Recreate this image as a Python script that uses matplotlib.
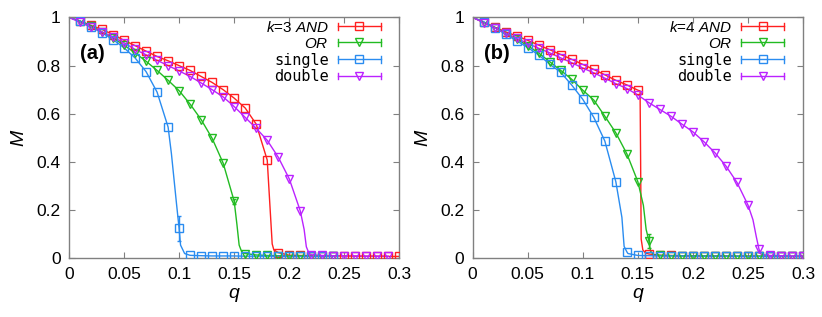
import numpy as np
import matplotlib.pyplot as plt
from matplotlib.legend_handler import HandlerLine2D
from matplotlib.lines import Line2D

plt.rcParams['font.family'] = ['Liberation Sans', 'DejaVu Sans']
plt.rcParams['mathtext.fontset'] = 'custom'
plt.rcParams['mathtext.it'] = 'Liberation Sans:italic'
plt.rcParams['mathtext.rm'] = 'Liberation Sans'

q = [0.01, 0.02, 0.03, 0.04, 0.05, 0.06, 0.07, 0.08, 0.09, 0.10,
     0.11, 0.12, 0.13, 0.14, 0.15, 0.16, 0.17, 0.18, 0.19, 0.20,
     0.21, 0.22, 0.23, 0.24, 0.25, 0.26, 0.27, 0.28, 0.29, 0.30]

# panel (a), k=3
a_and = [0.985, 0.967, 0.950, 0.929, 0.905, 0.883, 0.860, 0.838, 0.820, 0.800,
         0.780, 0.755, 0.730, 0.700, 0.665, 0.624, 0.557, 0.408, 0.024, 0.013,
         0.012, 0.011, 0.011, 0.010, 0.010, 0.009, 0.009, 0.009, 0.008, 0.008]
a_or = [0.985, 0.965, 0.940, 0.915, 0.885, 0.853, 0.818, 0.780, 0.739, 0.696,
        0.640, 0.576, 0.498, 0.395, 0.237, 0.020, 0.014, 0.012, 0.011, 0.010,
        0.010, 0.009, 0.009, 0.009]
a_single = [0.985, 0.961, 0.936, 0.908, 0.874, 0.832, 0.775, 0.690, 0.545, 0.124,
            0.0125, 0.011, 0.010, 0.010, 0.010, 0.009, 0.009, 0.009, 0.009, 0.008,
            0.008, 0.008, 0.008, 0.008]
a_double = [0.980, 0.960, 0.940, 0.918, 0.895, 0.867, 0.845, 0.822, 0.800, 0.778,
            0.755, 0.728, 0.700, 0.670, 0.630, 0.585, 0.540, 0.490, 0.420, 0.330,
            0.197, 0.015, 0.012, 0.011, 0.010, 0.010, 0.009, 0.009, 0.009]

# extra points of the fitted curves (q, M) near the jumps
a_and_curve = [(0.0, 1.0), (0.1845, 0.06), (0.186, 0.035)]
a_or_curve = [(0.0, 1.0), (0.1525, 0.14), (0.1545, 0.055), (0.157, 0.025)]
a_single_curve = [(0.0, 1.0), (0.093, 0.435), (0.0976, 0.228), (0.1013, 0.055), (0.105, 0.02)]
a_double_curve = [(0.0, 1.0), (0.2135, 0.12), (0.2155, 0.048), (0.218, 0.02)]

# panel (b), k=4
b_and = [0.980, 0.960, 0.940, 0.923, 0.905, 0.885, 0.866, 0.846, 0.826, 0.805,
         0.784, 0.762, 0.739, 0.720, 0.698, 0.018, 0.013, 0.012, 0.011, 0.011,
         0.010, 0.010, 0.010, 0.009, 0.009, 0.009, 0.009, 0.008, 0.008, 0.008]
b_or = [0.980, 0.958, 0.935, 0.910, 0.883, 0.852, 0.816, 0.780, 0.743, 0.698,
        0.657, 0.590, 0.521, 0.434, 0.318, 0.073, 0.012, 0.011, 0.010, 0.010,
        0.010, 0.009, 0.009, 0.009, 0.009, 0.009, 0.008, 0.008, 0.008, 0.008]
b_single = [0.982, 0.958, 0.930, 0.903, 0.875, 0.844, 0.806, 0.772, 0.719, 0.660,
            0.585, 0.487, 0.318, 0.027, 0.012, 0.011, 0.010, 0.010, 0.010, 0.009,
            0.009, 0.009, 0.009, 0.009, 0.008, 0.008, 0.008, 0.008, 0.008, 0.008]
b_double = [0.978, 0.956, 0.934, 0.913, 0.892, 0.872, 0.853, 0.832, 0.812, 0.790,
            0.770, 0.748, 0.725, 0.705, 0.678, 0.646, 0.618, 0.590, 0.557, 0.525,
            0.484, 0.438, 0.383, 0.315, 0.221, 0.037, 0.012, 0.011, 0.010, 0.010]

b_and_curve = [(0.0, 1.0), (0.152, 0.695), (0.1525, 0.40), (0.153, 0.08), (0.1545, 0.035), (0.157, 0.022)]
b_or_curve = [(0.0, 1.0), (0.155, 0.22), (0.1575, 0.12), (0.1615, 0.03), (0.164, 0.016)]
b_single_curve = [(0.0, 1.0), (0.1355, 0.17), (0.1375, 0.05), (0.141, 0.02)]
b_double_curve = [(0.0, 1.0), (0.2545, 0.16), (0.2575, 0.09), (0.262, 0.016)]

# error bars at the transition points: (q, M, err, series)
a_errs = [(0.10, 0.124, 0.05, 'single'), (0.15, 0.237, 0.01, 'OR')]
b_errs = [(0.16, 0.073, 0.03, 'OR')]

xticks = [0, 0.05, 0.1, 0.15, 0.2, 0.25, 0.3]
xticklabels = ['0', '0.05', '0.1', '0.15', '0.2', '0.25', '0.3']
yticks = [0, 0.2, 0.4, 0.6, 0.8, 1]
yticklabels = ['0', '0.2', '0.4', '0.6', '0.8', '1']

colors = {'AND': '#ff2020', 'OR': '#22bb22', 'single': '#2a8cf0', 'double': '#bb22ff'}
markers = {'AND': 's', 'OR': 'v', 'single': 's', 'double': 'v'}
msizes = {'s': 5.8, 'v': 5.8}


class CapHandler(HandlerLine2D):
    # gnuplot-like key sample: line with small end bars
    def create_artists(self, legend, orig_handle, xdescent, ydescent,
                       width, height, fontsize, trans):
        arts = super().create_artists(legend, orig_handle, xdescent, ydescent,
                                      width, height, fontsize, trans)
        y = height / 2 - ydescent
        for x in (-xdescent, width - xdescent):
            cap = Line2D([x, x], [y - 2.5, y + 2.5], color=orig_handle.get_color(),
                         lw=orig_handle.get_linewidth())
            cap.set_transform(trans)
            arts.append(cap)
        return arts


def curve(vals, extra):
    pts = list(zip(q[:len(vals)], vals)) + extra
    pts.sort()
    return [p[0] for p in pts], [p[1] for p in pts]


def panel(ax, series, errs, tag, k):
    handles = []
    for name, vals, extra in series:
        c = colors[name]
        mk = markers[name]
        xl, yl = curve(vals, extra)
        ax.plot(xl, yl, color=c, lw=1.0, zorder=2)
        ax.plot(q[:len(vals)], vals, ls='none', marker=mk, ms=msizes[mk],
                mfc='none', mec=c, mew=1.0, zorder=3)
        handles.append(Line2D([], [], color=c, lw=1.0, marker=mk, ms=msizes[mk],
                              mfc='none', mec=c, mew=1.0))
    for xq, ym, e, name in errs:
        ax.errorbar([xq], [ym], yerr=[e], fmt='none', ecolor=colors[name],
                    elinewidth=1.0, capsize=1.5, zorder=2)

    ax.set_xlim(0, 0.3)
    ax.set_ylim(0, 1)
    ax.set_xticks(xticks)
    ax.set_xticklabels(xticklabels)
    ax.set_yticks(yticks)
    ax.set_yticklabels(yticklabels)
    ax.tick_params(direction='in', length=4, width=0.8, color='#808080',
                   top=True, right=True, labelsize=12.5, pad=6)
    for sp in ax.spines.values():
        sp.set_color('#808080')
        sp.set_linewidth(1.0)
    ax.set_xlabel('$q$', fontsize=14, labelpad=3)
    ax.set_ylabel('$M$', fontsize=14, labelpad=6)
    ax.text(0.033, 0.85, tag, transform=ax.transAxes, fontsize=14.5,
            fontweight='bold', va='center', ha='left')

    labels = ['$k$=%d $AND$' % k, '$OR$', 'single', 'double']
    leg = ax.legend(handles, labels, loc='upper right', bbox_to_anchor=(0.943, 0.99),
                    frameon=False, markerfirst=False, fontsize=11, handlelength=2.8,
                    handletextpad=0.6, labelspacing=0.12, borderpad=0, borderaxespad=0,
                    handler_map={Line2D: CapHandler()})
    for t in leg.get_texts()[2:]:
        t.set_family('DejaVu Sans Mono')


fig = plt.figure(figsize=(8.22, 3.17), dpi=100)
ax1 = fig.add_axes([0.0839, 0.185, 0.402, 0.760])
ax2 = fig.add_axes([0.575, 0.185, 0.402, 0.760])

panel(ax1, [('AND', a_and, a_and_curve), ('OR', a_or, a_or_curve),
            ('single', a_single, a_single_curve), ('double', a_double, a_double_curve)],
      a_errs, '(a)', 3)
panel(ax2, [('AND', b_and, b_and_curve), ('OR', b_or, b_or_curve),
            ('single', b_single, b_single_curve), ('double', b_double, b_double_curve)],
      b_errs, '(b)', 4)

plt.savefig('out.png', dpi=100)
plt.close()
